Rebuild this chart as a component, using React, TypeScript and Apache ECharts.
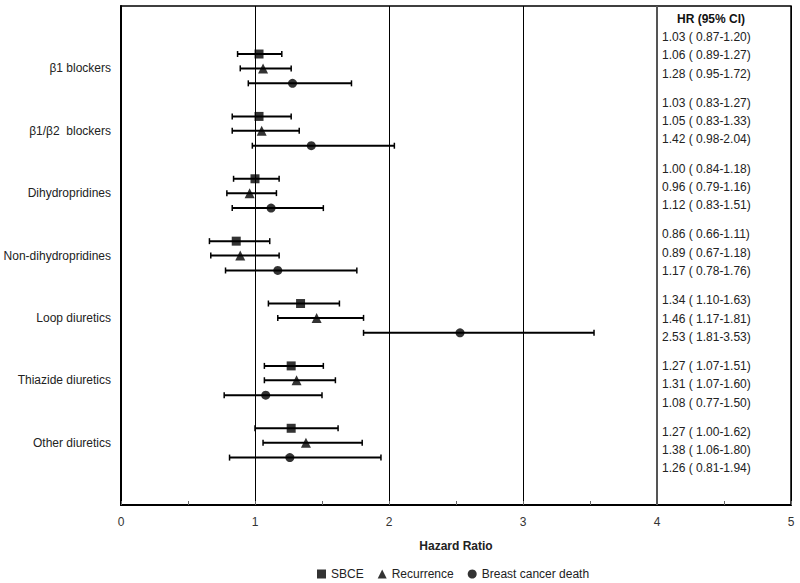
import React, { useEffect, useRef } from "react";
import * as echarts from "echarts";

const groups = [
  "β1 blockers",
  "β1/β2  blockers",
  "Dihydropridines",
  "Non-dihydropridines",
  "Loop diuretics",
  "Thiazide diuretics",
  "Other diuretics",
];
const outcomes = ["SBCE", "Recurrence", "Breast cancer death"];
const outcomeSymbols = ["rect", "triangle", "circle"];

const sbceHR = [1.03, 1.03, 1.0, 0.86, 1.34, 1.27, 1.27];
const sbceLo = [0.87, 0.83, 0.84, 0.66, 1.1, 1.07, 1.0];
const sbceHi = [1.2, 1.27, 1.18, 1.11, 1.63, 1.51, 1.62];

const recHR = [1.06, 1.05, 0.96, 0.89, 1.46, 1.31, 1.38];
const recLo = [0.89, 0.83, 0.79, 0.67, 1.17, 1.07, 1.06];
const recHi = [1.27, 1.33, 1.16, 1.18, 1.81, 1.6, 1.8];

const deathHR = [1.28, 1.42, 1.12, 1.17, 2.53, 1.08, 1.26];
const deathLo = [0.95, 0.98, 0.83, 0.78, 1.81, 0.77, 0.81];
const deathHi = [1.72, 2.04, 1.51, 1.76, 3.53, 1.5, 1.94];

const xMin = 0;
const xMax = 5;

const HR = [sbceHR, recHR, deathHR];
const LO = [sbceLo, recLo, deathLo];
const HI = [sbceHi, recHi, deathHi];

const FONT = "'Liberation Sans', Arial, sans-serif";
const rowOffsets = [-0.23, 0, 0.24];

export default function App() {
  const ref = useRef<HTMLDivElement>(null);
  useEffect(() => {
    if (!ref.current) return;
    const chart = echarts.init(ref.current, undefined, { renderer: "svg" });

    const barData: number[][] = [];
    const markerSeries: any[] = [];
    for (let k = 0; k < 3; k++) {
      const pts: number[][] = [];
      for (let g = 0; g < groups.length; g++) {
        const y = g + 1 + rowOffsets[k];
        barData.push([LO[k][g], HI[k][g], y]);
        pts.push([HR[k][g], y]);
      }
      markerSeries.push({
        type: "scatter",
        name: outcomes[k],
        symbol: outcomeSymbols[k],
        symbolSize: k === 1 ? 10 : 9,
        itemStyle: { color: "#000" },
        data: pts,
        z: 5,
      });
    }

    const texts: any[] = [];
    texts.push({
      type: "text",
      x: 711,
      y: 19,
      style: {
        text: "HR (95% CI)",
        font: `bold 12px ${FONT}`,
        fill: "#111",
        textAlign: "center",
        textVerticalAlign: "middle",
      },
    });
    for (let g = 0; g < groups.length; g++) {
      for (let k = 0; k < 3; k++) {
        texts.push({
          type: "text",
          x: 662,
          y: 37 + g * 65.8 + k * 18.3,
          style: {
            text: `${HR[k][g].toFixed(2)} ( ${LO[k][g].toFixed(2)}-${HI[k][g].toFixed(2)})`,
            font: `12px ${FONT}`,
            fill: "#222",
            textAlign: "left",
            textVerticalAlign: "middle",
          },
        });
      }
    }

    chart.setOption({
      animation: false,
      backgroundColor: "#fff",
      textStyle: { fontFamily: FONT },
      grid: {
        left: 121,
        right: 9,
        top: 6,
        bottom: 78,
        show: true,
        borderColor: "#000",
        borderWidth: 1.5,
        containLabel: false,
        outerBoundsMode: "none",
      },
      xAxis: {
        type: "value",
        min: xMin,
        max: xMax,
        interval: 1,
        name: "Hazard Ratio",
        nameLocation: "middle",
        nameGap: 35,
        nameTextStyle: { fontFamily: FONT, fontWeight: "bold", fontSize: 12, color: "#222" },
        axisLine: { show: true, onZero: false, lineStyle: { color: "#000", width: 2 } },
        axisTick: { show: true, inside: true, length: 4, lineStyle: { color: "#666" } },
        minorTick: { show: true, splitNumber: 2, length: 4, lineStyle: { color: "#666" } },
        axisLabel: { fontFamily: FONT, fontSize: 12, color: "#333", margin: 11 },
        splitLine: { show: true, lineStyle: { color: "#000", width: 1 } },
      },
      yAxis: {
        type: "value",
        min: 0,
        max: 8,
        interval: 1,
        inverse: true,
        axisLine: { show: true, lineStyle: { color: "#000", width: 2 } },
        axisTick: { show: false },
        splitLine: { show: false },
        axisLabel: {
          fontFamily: FONT,
          fontSize: 12,
          color: "#222",
          margin: 10,
          formatter: (v: number) => groups[v - 1] ?? "",
        },
      },
      legend: {
        data: outcomes,
        left: 312,
        top: 563,
        itemWidth: 9,
        itemHeight: 9,
        itemGap: 14,
        textStyle: { fontFamily: FONT, fontSize: 12, color: "#222" },
      },
      graphic: texts,
      series: [
        {
          type: "custom",
          name: "CI",
          encode: { x: [0, 1], y: 2 },
          data: barData,
          renderItem: (params: any, api: any) => {
            const y = api.value(2);
            const a = api.coord([api.value(0), y]);
            const b = api.coord([api.value(1), y]);
            const c = 3;
            return {
              type: "group",
              children: [
                { type: "line", shape: { x1: a[0], y1: a[1], x2: b[0], y2: b[1] }, style: { stroke: "#000", lineWidth: 2 } },
                { type: "line", shape: { x1: a[0], y1: a[1] - c, x2: a[0], y2: a[1] + c }, style: { stroke: "#000", lineWidth: 1.5 } },
                { type: "line", shape: { x1: b[0], y1: b[1] - c, x2: b[0], y2: b[1] + c }, style: { stroke: "#000", lineWidth: 1.5 } },
              ],
            };
          },
          markLine: {
            silent: true,
            symbol: "none",
            label: { show: false },
            lineStyle: { color: "#555", width: 2, type: "solid" },
            data: [{ xAxis: 4 }],
          },
          z: 3,
        },
        ...markerSeries,
      ],
    });
    return () => chart.dispose();
  }, []);
  return <div ref={ref} style={{ width: 800, height: 583, position: "absolute", left: 0, top: 0 }} />;
}
